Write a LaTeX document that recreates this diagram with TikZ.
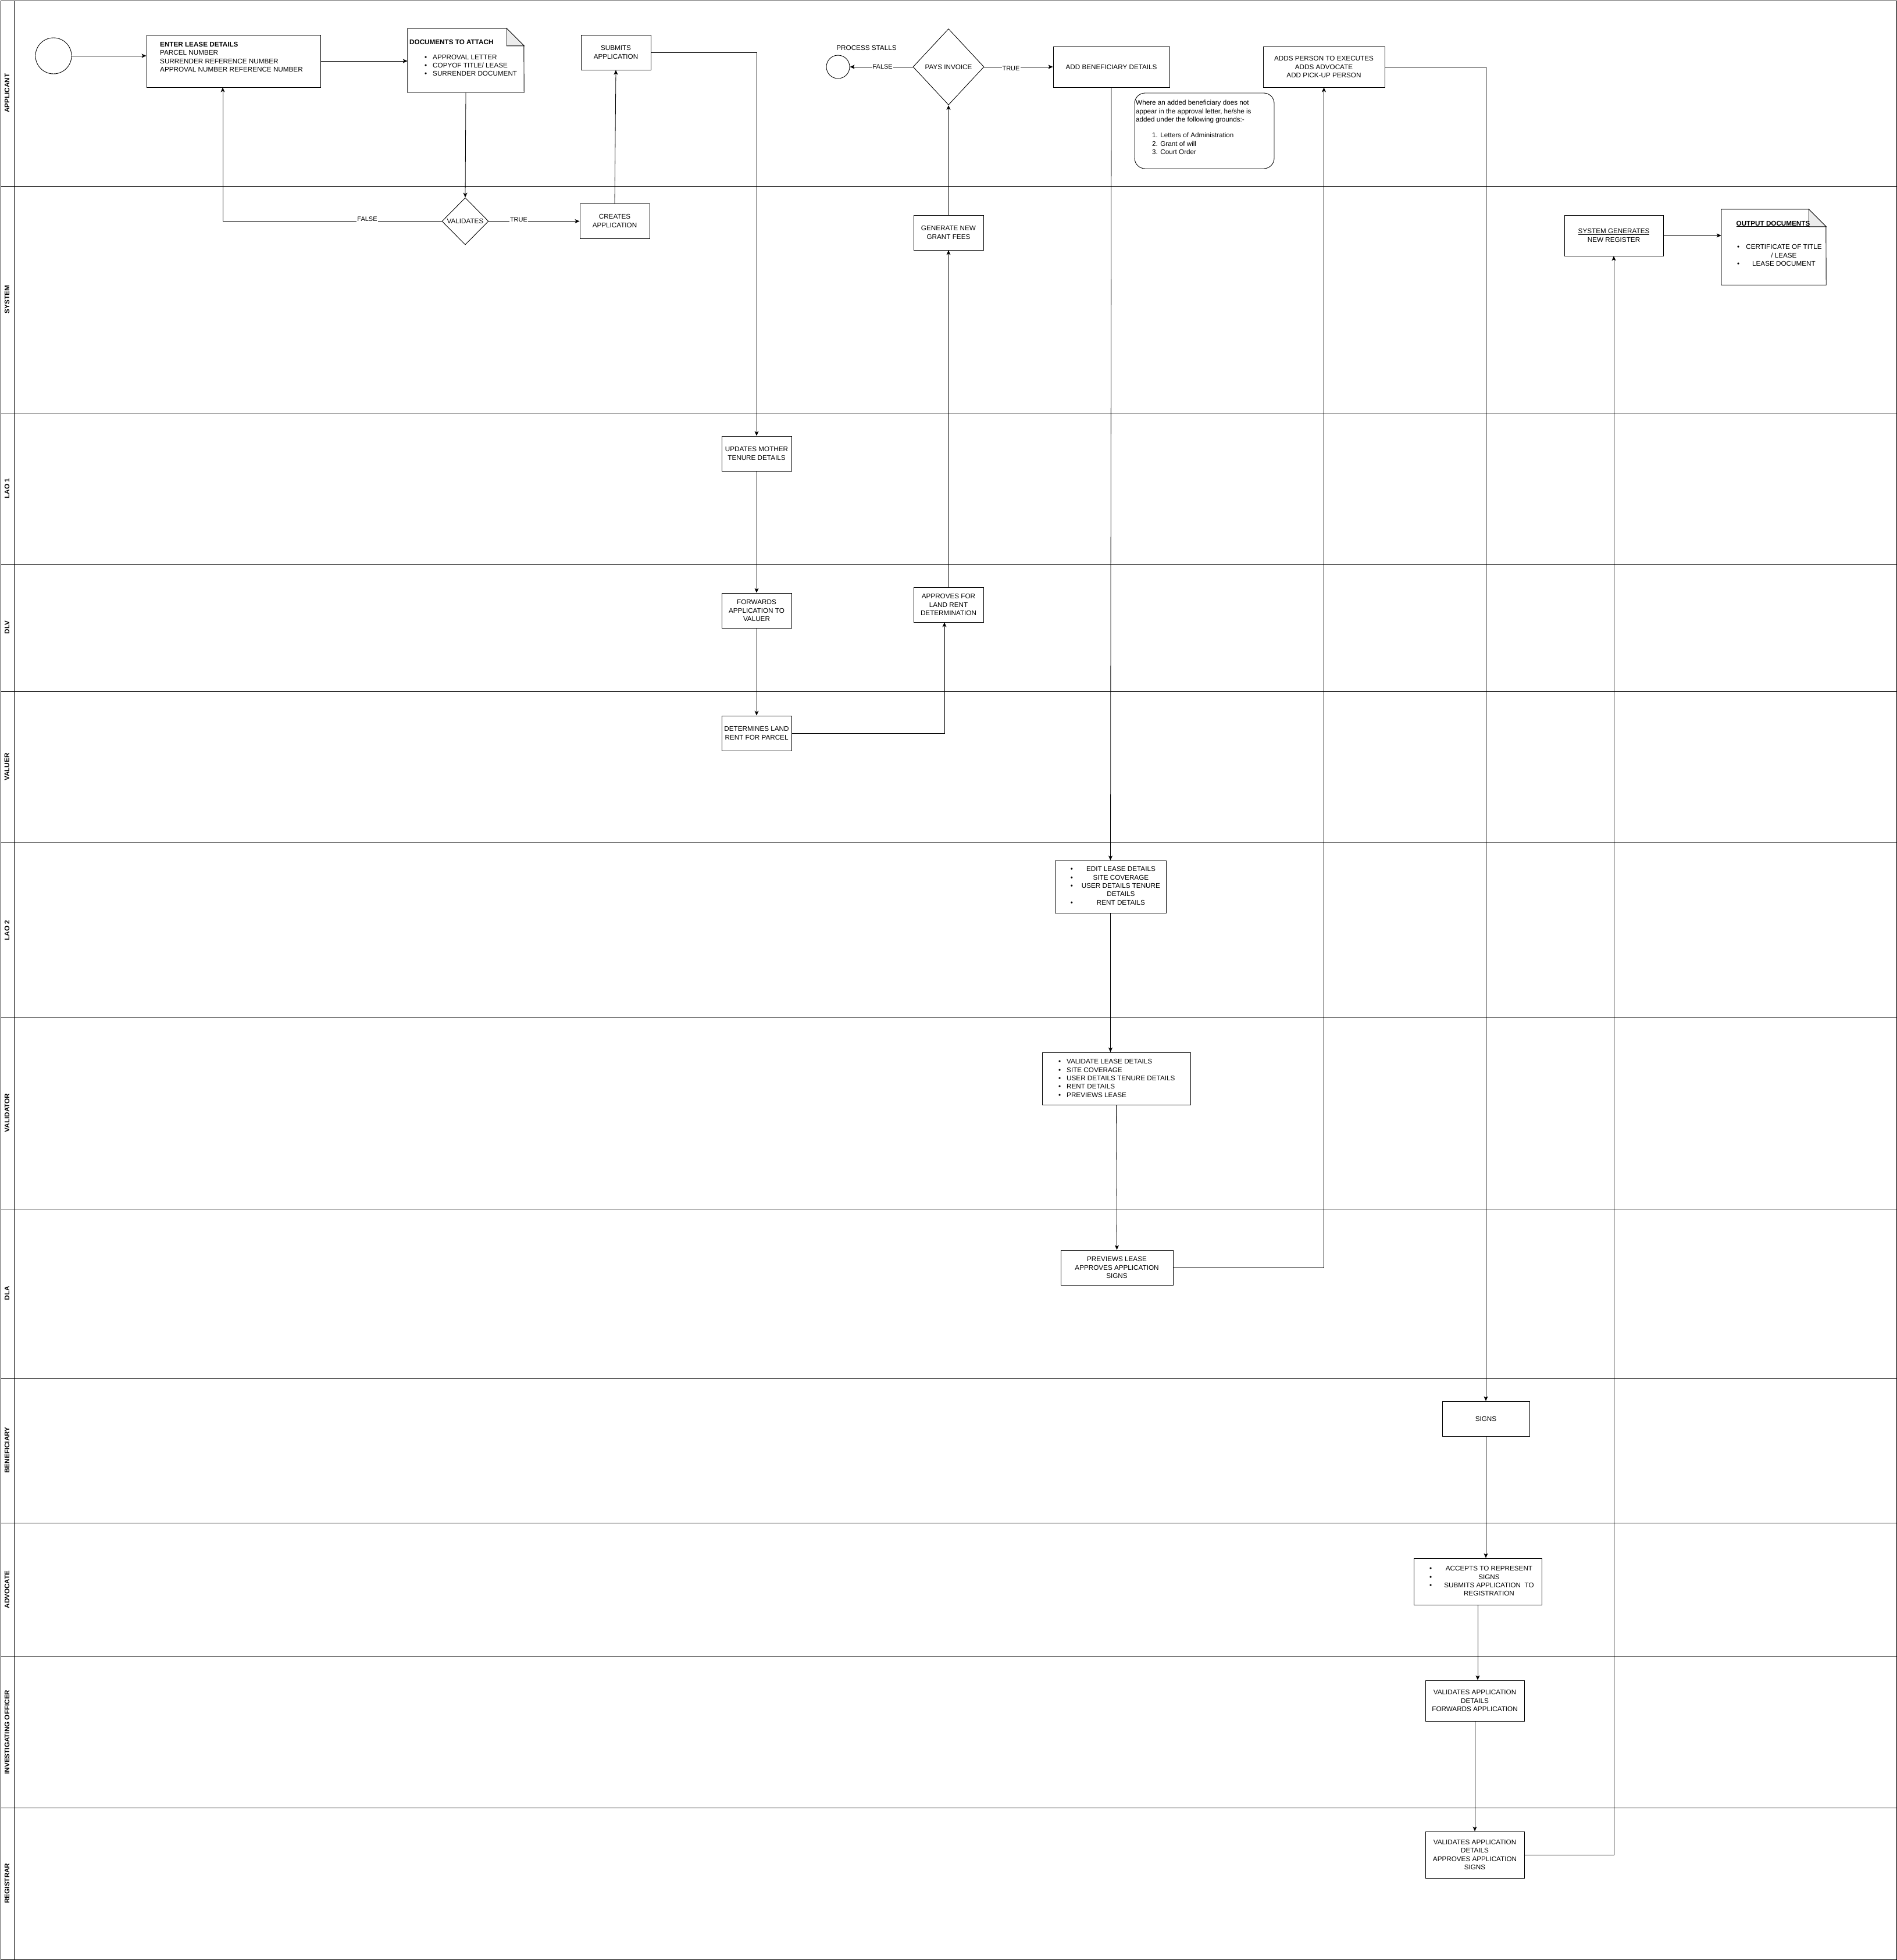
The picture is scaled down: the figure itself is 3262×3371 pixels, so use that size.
\documentclass[tikz,border=0pt]{standalone}
\usepackage{fontspec}
\setmainfont{Liberation Sans}
\usetikzlibrary{shapes.geometric, arrows.meta}
\newcommand\fs{\fontsize{11.7}{14.3}\selectfont}
\newcommand\bl{\makebox[14pt][l]{•}}
\begin{document}
\begin{tikzpicture}[x=1pt,y=-1pt,
  lane/.style={line width=1pt},
  bx/.style 2 args={draw, line width=0.9pt, minimum width=#1pt, minimum height=#2pt, inner sep=0pt, align=center, font=\fs},
  holder/.style 2 args={minimum width=#1pt, minimum height=#2pt, inner sep=0pt},
  conn/.style={line width=0.8pt, -{Stealth[length=8pt,width=7pt,inset=2pt]}},
  lbl/.style={fill=white, inner sep=1pt, font=\fontsize{11}{13}\selectfont},
  lanetxt/.style={rotate=90, inner sep=0pt, font=\bfseries\fs},
  txt/.style={inner sep=0pt, font=\fs, align=left},
  notefold/.style={line width=0.9pt, fill=gray!15},
]
\useasboundingbox (0,0) rectangle (3262,3371);

% ---------- swimlanes ----------
\draw[lane] (1,1) rectangle (3261,3370);
\draw[lane] (24,1) -- (24,3370);
\foreach \yy in {320,710,970,1189,1449,1750,2079,2370,2619,2849,3109}
  \draw[lane] (1,\yy) -- (3261,\yy);
\node[lanetxt] (lApp) at (12,160) {APPLICANT};
\node[lanetxt] (lSys) at (12,515) {SYSTEM};
\node[lanetxt] (lLaoA) at (12,840) {LAO 1};
\node[lanetxt] (lDlv) at (12,1079) {DLV};
\node[lanetxt] (lVal) at (12,1319) {VALUER};
\node[lanetxt] (lLaoB) at (12,1600) {LAO 2};
\node[lanetxt] (lValid) at (12,1914) {VALIDATOR};
\node[lanetxt] (lDla) at (12,2224) {DLA};
\node[lanetxt] (lBen) at (12,2494) {BENEFICIARY};
\node[lanetxt] (lAdv) at (12,2734) {ADVOCATE};
\node[lanetxt] (lInv) at (12,2979) {INVESTIGATING OFFICER};
\node[lanetxt] (lReg) at (12,3239) {REGISTRAR};

% ---------- APPLICANT ----------
\node[draw, circle, line width=0.9pt, minimum size=62pt, inner sep=0pt] (start) at (92,96) {};
\node[bx={299}{90}] (enter) at (401.5,105) {};
\node[txt, anchor=west] (enterTxt) at (275,98) {\textbf{ENTER LEASE DETAILS}\\PARCEL NUMBER\\SURRENDER REFERENCE NUMBER\\APPROVAL NUMBER REFERENCE NUMBER};

\node[holder={200}{110}] (docs) at (801,104) {};
\draw[line width=0.9pt] (docs.north west) -- ++(170,0) -- ++(30,30) -- (docs.south east) -- (docs.south west) -- cycle;
\draw[notefold] ([xshift=-30pt]docs.north east) -- ++(0,30) -- ++(30,0) -- cycle;
\node[txt, anchor=west, font=\bfseries\fs] (docsTitle) at (704,72) {DOCUMENTS TO ATTACH};
\node[txt, anchor=west] (docsList) at (730,112.5) {\bl APPROVAL LETTER\\\bl COPYOF TITLE/ LEASE\\\bl SURRENDER DOCUMENT};

\node[bx={120}{60}] (submits) at (1059,90) {SUBMITS\\APPLICATION};

\node[draw, circle, line width=0.9pt, minimum size=40pt, inner sep=0pt] (stall) at (1441,115) {};
\node[txt] (stallTxt) at (1490,82) {PROCESS STALLS};
\node[draw, diamond, line width=0.9pt, minimum width=122pt, minimum height=131pt, inner sep=0pt, font=\fs] (pays) at (1631,115) {PAYS INVOICE};
\node[bx={200}{70}] (addben) at (1911,115) {ADD BENEFICIARY DETAILS};

\node[draw, rounded corners=18pt, line width=0.9pt, minimum width=240pt, minimum height=130pt, inner sep=0pt] (note) at (2071,225) {};
\node[txt, anchor=west] (noteTxt) at (1953,192) {Where an added beneficiary does not\\appear in the approval letter, he/she is\\added under the following grounds:-};
\node[txt, anchor=west] (noteList) at (1981,247) {1. Letters of Administration\\2. Grant of will\\3. Court Order};

\node[bx={209}{70}] (addper) at (2276.5,115) {ADDS PERSON TO EXECUTES\\ADDS ADVOCATE\\ADD PICK-UP PERSON};

% ---------- SYSTEM ----------
\node[draw, diamond, line width=0.9pt, minimum width=80pt, minimum height=81pt, inner sep=0pt, font=\fs] (val) at (800,380.5) {VALIDATES};
\node[bx={120}{60}] (creates) at (1057,380) {CREATES\\APPLICATION};
\node[bx={120}{60}] (generate) at (1631,400) {GENERATE NEW\\GRANT FEES};
\node[bx={170}{70}] (sysgen) at (2775,405) {\underline{SYSTEM GENERATES}\\NEW REGISTER};

\node[holder={180}{130}] (outdoc) at (3050,425) {};
\draw[line width=0.9pt] (outdoc.north west) -- ++(150,0) -- ++(30,30) -- (outdoc.south east) -- (outdoc.south west) -- cycle;
\draw[notefold] ([xshift=-30pt]outdoc.north east) -- ++(0,30) -- ++(30,0) -- cycle;
\node[inner sep=0pt, font=\bfseries\fs] (outTitle) at (3049,385) {\underline{OUTPUT DOCUMENTS}};
\node[inner sep=0pt, font=\fs, anchor=west] (outList) at (2987,440.3) {\begin{tabular}{@{}l@{\hspace{11pt}}c@{}}• & CERTIFICATE OF TITLE\\ & / LEASE\\ • & LEASE DOCUMENT\end{tabular}};

% ---------- LAO 1 / DLV / VALUER ----------
\node[bx={120}{60}] (updates) at (1301,780) {UPDATES MOTHER\\TENURE DETAILS};
\node[bx={120}{60}] (forwards) at (1301,1050) {FORWARDS\\APPLICATION TO\\VALUER};
\node[bx={120}{60}] (approves) at (1631,1040) {APPROVES FOR\\LAND RENT\\DETERMINATION};
\node[bx={120}{60}] (determines) at (1301,1261) {DETERMINES LAND\\RENT FOR PARCEL};

% ---------- LAO 2 / VALIDATOR / DLA ----------
\node[bx={191}{90}] (editl) at (1909.5,1525) {};
\node[inner sep=0pt, font=\fs, anchor=west] (editTxt) at (1840.6,1524.6) {\begin{tabular}{@{}l@{\hspace{15pt}}c@{}}• & EDIT LEASE DETAILS\\ • & SITE COVERAGE\\ • & USER DETAILS TENURE\\ & DETAILS\\ • & RENT DETAILS\end{tabular}};
\node[bx={255}{90}] (validl) at (1919.5,1855) {};
\node[txt, anchor=west] (validTxt) at (1820,1854.5) {\bl VALIDATE LEASE DETAILS\\\bl SITE COVERAGE\\\bl USER DETAILS TENURE DETAILS\\\bl RENT DETAILS\\\bl PREVIEWS LEASE};
\node[bx={193}{60}] (prevl) at (1920.5,2180) {PREVIEWS LEASE\\APPROVES APPLICATION\\SIGNS};

% ---------- BENEFICIARY / ADVOCATE / IO / REGISTRAR ----------
\node[bx={150}{60}] (signs) at (2555,2440) {SIGNS};
\node[bx={220}{80}] (accepts) at (2541,2720) {};
\node[inner sep=0pt, font=\fs, anchor=west] (acceptsTxt) at (2458,2720.5) {\begin{tabular}{@{}l@{\hspace{21pt}}c@{}}• & ACCEPTS TO REPRESENT\\ • & SIGNS\\ • & SUBMITS APPLICATION\ \ TO\\ & REGISTRATION\end{tabular}};
\node[bx={170}{70}] (invest) at (2536,2925) {VALIDATES APPLICATION\\DETAILS\\FORWARDS APPLICATION};
\node[bx={170}{80}] (registrar) at (2536,3190) {VALIDATES APPLICATION\\DETAILS\\APPROVES APPLICATION\\SIGNS};

% ---------- connectors ----------
\draw[conn] (start.east) -- (start.east -| enter.west);
\draw[conn] (enter.east) -- (enter.east -| docs.west);
\draw[conn] (docs.south) -- (val.north);
\draw[conn] (val.west) -| node[lbl, pos=0.17, yshift=4pt] {FALSE} ([xshift=-18.5pt]enter.south);
\draw[conn] (val.east) -- node[lbl, pos=0.33, yshift=3pt] {TRUE} (val.east -| creates.west);
\draw[conn] (creates.north) -- (submits.south);
\draw[conn] (submits.east) -| (updates.north);
\draw[conn] (updates.south) -- (forwards.north);
\draw[conn] (forwards.south) -- (determines.north);
\draw[conn] (determines.east) -| ([xshift=-7pt]approves.south);
\draw[conn] (approves.north) -- (generate.south);
\draw[conn] (generate.north) -- (pays.south);
\draw[conn] (pays.west) -- node[lbl, pos=0.48] {FALSE} (stall.east);
\draw[conn] (pays.east) -- node[lbl, pos=0.39, yshift=-3pt] {TRUE} (addben.west);
\draw[conn] (addben.south) -- (editl.north);
\draw[conn] (editl.south) -- (editl.south |- validl.north);
\draw[conn] (validl.south) -- (prevl.north);
\draw[conn] (prevl.east) -| (addper.south);
\draw[conn] (addper.east) -| (signs.north);
\draw[conn] (signs.south) -- (signs.south |- accepts.north);
\draw[conn] (accepts.south) -- (accepts.south |- invest.north);
\draw[conn] (invest.south) -- (registrar.north);
\draw[conn] (registrar.east) -| (sysgen.south);
\draw[conn] (sysgen.east) -- (sysgen.east -| outdoc.west);
\end{tikzpicture}
\end{document}
